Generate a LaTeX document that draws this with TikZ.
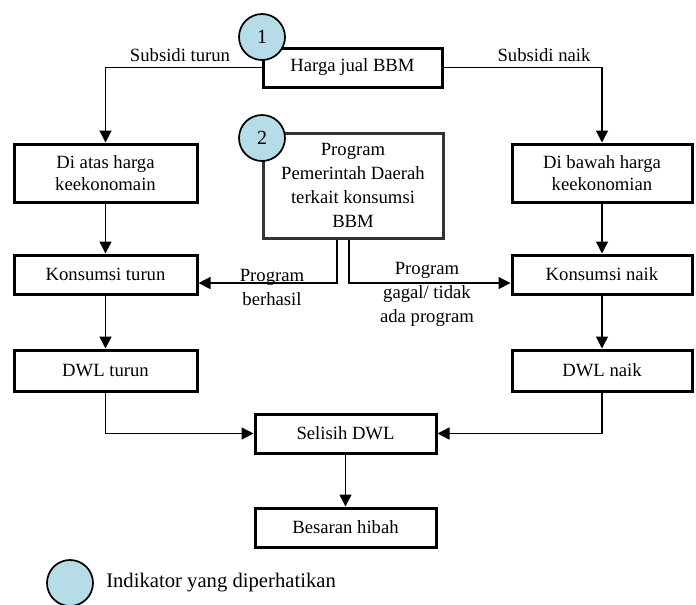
\documentclass[tikz,border=0pt]{standalone}
\usepackage{fontspec}
\setmainfont{Liberation Serif}
\usetikzlibrary{arrows.meta}

\definecolor{indblue}{RGB}{182,221,231}

\tikzset{
  kotak/.style={draw, line width=2.25pt, inner sep=0pt, align=center,
    minimum width=135pt, minimum height=29.25pt,
    font=\fontsize{14}{16.5}\selectfont},
  indikator/.style={circle, draw, line width=1.3pt, fill=indblue, inner sep=0pt,
    minimum size=34.5pt, font=\fontsize{15}{18}\selectfont},
  panah/.style={line width=1.1pt, -{Triangle[width=9pt,length=9pt]}},
  ket/.style={font=\fontsize{14}{18}\selectfont, align=center, inner sep=1pt}
}

\begin{document}
\begin{tikzpicture}[x=0.75pt,y=0.75pt,yscale=-1,xscale=1]
\useasboundingbox (0,0) rectangle (696,604);

% kotak utama
\node [kotak, minimum width=134.25pt] (harga) at (352.5,67.5) {Harga jual BBM};
\node [kotak, minimum width=137.25pt, minimum height=43.5pt] (atas) at (105.5,173) {Di atas harga\\keekonomain};
\node [kotak, minimum height=43.5pt] (bawah) at (602,173) {Di bawah harga\\keekonomian};
\node [kotak, minimum width=137.25pt] (kturun) at (105.5,274.5) {Konsumsi turun};
\node [kotak] (knaik) at (602,274.5) {Konsumsi naik};
\node [kotak, minimum width=137.25pt, minimum height=30.75pt] (dturun) at (105.5,370.5) {DWL turun};
\node [kotak, minimum height=30.75pt] (dnaik) at (602,370.5) {DWL naik};
\node [kotak, minimum width=135.75pt] (selisih) at (345.5,433.5) {Selisih DWL};
\node [kotak, minimum width=135.75pt] (hibah) at (345.5,527.5) {Besaran hibah};

% program pemda
\node [kotak, draw=black!80, minimum height=78.75pt, font=\fontsize{14}{18}\selectfont] (program) at (353,185.5)
  {Program\\Pemerintah Daerah\\terkait konsumsi\\BBM};

% indikator
\node [indikator] (ind1) at (262,37) {1};
\node [indikator] (ind2) at (262,138) {2};

% subsidi
\draw [panah] (harga.west) -| (atas.north);
\draw [panah] (harga.east) -| (bawah.north);
\node [ket] (lturun) at (180,55) {Subsidi turun};
\node [ket] (lnaik) at (544,55) {Subsidi naik};

% alur kiri dan kanan
\draw [panah] (atas.south) -- (kturun.north);
\draw [panah] (kturun.south) -- (dturun.north);
\draw [panah] (bawah.south) -- (knaik.north);
\draw [panah] (knaik.south) -- (dnaik.north);

% program berhasil / gagal
\draw [panah] ([xshift=-12pt]program.south) |- ([yshift=6.4pt]kturun.east);
\draw [panah] ([xshift=-3pt]program.south) |- ([yshift=6.4pt]knaik.west);
\node [ket] (lberhasil) at (272,287) {Program\\berhasil};
\node [ket] (lgagal) at (427,294) {Program\\gagal/ tidak\\ada program};

% selisih
\draw [panah] (dturun.south) |- (selisih.west);
\draw [panah] (dnaik.south) |- (selisih.east);
\draw [panah] (selisih.south) -- (hibah.north);

% keterangan
\node [indikator] (legenda) at (70,583) {};
\node [anchor=west, inner sep=0pt, font=\fontsize{15.5}{18}\selectfont] (lleg) at (106,583) {Indikator yang diperhatikan};

\end{tikzpicture}
\end{document}
